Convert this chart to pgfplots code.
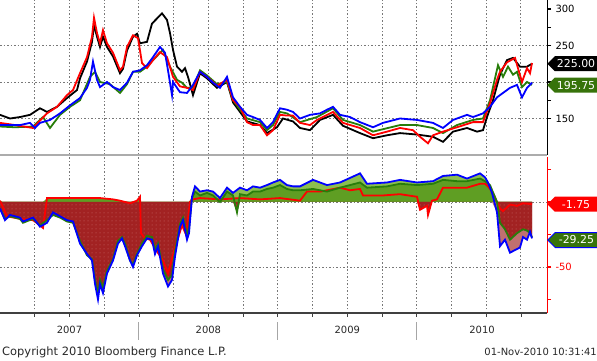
\documentclass[border=0pt]{standalone}
\usepackage{fontspec}
\setmainfont{DejaVu Sans}
\usepackage{pgfplots}
\pgfplotsset{compat=1.18}
\usepackage{pgfplotstable}
\usetikzlibrary{shapes.symbols,patterns.meta}

\definecolor{bbred}{RGB}{255,0,0}
\definecolor{bbgreen}{RGB}{40,125,10}
\definecolor{bbblue}{RGB}{0,0,255}
\definecolor{fillpos}{RGB}{95,158,35}
\definecolor{fillposlt}{RGB}{140,190,80}
\definecolor{fillneg}{RGB}{162,34,34}
\definecolor{fillneglt}{RGB}{192,112,112}
\definecolor{dotc}{RGB}{205,110,110}
\definecolor{gridc}{RGB}{120,120,120}
\definecolor{boxgreen}{RGB}{55,115,10}
\definecolor{txt}{RGB}{40,40,40}

% ---------- top panel (price) ----------
\pgfplotstableread{
x y
0 155
10 150
20 152
30 155
40 164
47 159
57 166
67 178
77 189
80 205
87 228
92 255
94 278
97 262
100 248
103 262
107 248
113 235
120 212
123 218
127 243
133 262
137 266
140 253
147 255
152 280
157 287
162 294
167 285
170 267
173 244
177 221
182 214
185 219
188 207
193 182
200 212
207 205
217 192
227 200
233 172
247 146
260 141
267 130
277 138
283 150
293 146
300 137
310 134
320 148
333 155
343 140
360 130
373 123
387 127
400 130
417 128
433 125
443 118
453 132
467 137
477 132
483 134
487 152
493 175
500 210
507 230
513 233
520 221
527 221
532 225
}\topK

\pgfplotstableread{
x y
0 139
15 138
33 139
43 152
50 137
60 155
70 166
80 175
90 207
95 214
100 200
110 197
120 185
127 197
133 214
140 214
147 221
153 230
163 244
170 221
177 203
182 199
187 192
193 192
200 216
207 209
217 197
227 200
233 175
240 162
247 150
260 145
267 134
273 141
280 159
287 157
300 145
317 152
333 164
343 148
360 141
373 132
400 141
417 141
433 137
443 130
457 141
473 148
483 150
490 175
498 223
503 207
508 221
513 210
517 214
522 193
527 200
532 196
}\topG

\pgfplotstableread{
x y
0 144
15 141
33 137
47 157
57 166
67 182
73 189
80 212
87 234
92 262
94 288
97 267
100 253
103 271
107 253
113 240
120 216
123 221
127 248
133 264
138 260
142 226
147 219
153 230
160 241
167 234
173 207
180 194
187 192
193 189
200 214
207 207
217 195
227 203
233 175
240 166
247 145
253 141
260 141
267 127
273 134
280 155
287 154
293 154
300 144
310 141
317 148
333 159
343 144
360 137
373 127
387 132
400 137
413 134
420 125
428 116
433 127
443 132
457 138
473 145
483 145
490 171
497 203
500 214
507 227
515 233
522 200
527 219
530 212
532 226
}\topR

\pgfplotstableread{
x y
0 141
10 141
20 141
30 144
35 137
40 144
50 148
60 157
70 168
80 178
87 192
90 203
93 228
97 203
100 193
107 200
113 193
120 189
127 199
133 214
140 216
147 223
153 234
160 248
165 240
168 216
172 182
173 200
180 186
187 185
193 196
200 214
207 207
213 199
220 192
227 207
233 179
240 166
247 155
253 152
260 148
267 137
273 145
280 164
287 162
293 159
300 150
310 155
320 157
327 162
333 166
340 155
350 152
360 145
373 138
383 144
400 150
417 148
433 144
443 137
453 148
467 155
473 152
483 157
490 166
497 179
503 185
510 192
517 196
522 179
527 192
532 199
}\topB

% ---------- bottom panel (spreads) ----------
\pgfplotstableread{
x y
0 -5
5 -14
10 -10
20 -12
23 -15
33 -12
40 -19
47 -16
53 -8
60 -11
67 -14
73 -15
80 -32
87 -40
92 -45
95 -63
98 -75
100 -63
103 -70
107 -55
113 -45
118 -32
122 -28
125 -34
130 -45
133 -50
137 -41
142 -34
147 -28
152 -29
155 -40
158 -34
163 -55
168 -65
172 -60
175 -42
180 -19
183 -14
187 -29
189 -24
192 4
195 12
200 8
207 9
213 8
220 3
227 11
233 7
240 11
247 9
253 12
260 11
267 13
273 15
280 17
287 13
293 12
300 12
313 17
327 13
340 15
360 22
367 14
387 15
400 17
417 15
433 16
443 20
457 21
467 18
480 22
485 19
488 15
492 7
497 -8
500 -34
505 -29
510 -39
515 -37
520 -35
523 -27
527 -29
530 -23
532 -28
}\botB

\pgfplotstableread{
x y
0 -5
5 -13
10 -11
20 -13
23 -16
33 -13
40 -18
47 -14
53 -10
60 -12
67 -15
73 -16
80 -30
87 -41
92 -44
95 -60
98 -70
100 -60
103 -66
107 -53
113 -44
118 -30
122 -27
125 -32
130 -45
133 -48
137 -40
142 -32
147 -26
152 -27
155 -37
158 -32
163 -52
168 -60
172 -56
175 -38
180 -17
183 -12
187 -25
189 -20
192 3
195 8
200 5
207 7
213 5
220 0
227 8
233 5
237 -8
240 6
247 5
253 8
260 8
267 10
273 11
280 13
287 10
293 9
300 9
313 10
327 8
340 11
360 15
367 11
387 12
400 14
417 13
433 14
443 17
457 16
467 16
480 18
485 16
490 13
497 0
500 -16
505 -21
510 -29
517 -24
523 -21
527 -22
530 -24
532 -27
}\botG

\pgfplotstableread{
x y
0 1
3 -4
7 -11
20 -13
33 -14
40 -18
43 -20
47 3
60 3
80 3
100 3
113 2
120 1
130 -1
137 1
140 4
141 -24
145 -28
150 -29
157 -38
163 -45
168 -55
175 -35
182 -18
186 -25
190 0
193 2
200 3
220 2
240 3
260 2
280 3
300 1
307 8
320 8
327 9
340 11
350 9
360 10
363 5
383 5
400 6
417 4
420 -6
427 -3
428 -10
432 1
437 2
443 11
457 11
467 11
480 14
485 14
488 12
493 7
497 0
500 -5
503 -7
510 -2
517 -3
523 -1
532 -1.75
}\botR

\pgfplotsset{bb/.style={
  scale only axis, width=547bp, xmin=0, xmax=547,
  clip mode=individual, no markers,
  axis y line*=right, axis x line*=bottom,
  xtick={34.7,69.5,104.2,138.9,173.7,208.4,243.1,277.8,312.6,347.3,382.0,416.8,451.5,486.2,520.9},
  xticklabels={},
  xmajorgrids,
  grid style={gridc, line width=0.9bp, dash pattern=on 1.5bp off 2bp},
  tick label style={font=\fontsize{10}{12}\selectfont},
  major tick length=4bp, minor tick length=4bp,
  tick align=outside,
  yticklabel style={xshift=1bp},
}}
\tikzset{negfill/.style={draw=none, fill=fillneg,
  postaction={pattern={Dots[distance=4bp,radius=0.5bp]}, pattern color=dotc}}}

\begin{document}
\begin{tikzpicture}
\useasboundingbox (0,0) rectangle (597bp,361bp);

% ===== top panel =====
\begin{axis}[bb, at={(0,206bp)}, anchor=south west, height=155bp,
  ymin=100, ymax=312.3,
  ytick={150,200,250,300}, yticklabels={150,,250,300}, minor y tick num=1,
  extra y ticks={150,200,250}, extra y tick labels={},
  extra y tick style={grid=major},
  x axis line style={gray!65, line width=2.6bp},
  x tick style={draw=none},
  y axis line style={black, line width=1bp},
  major y tick style={black, line width=1.6bp},
  minor y tick style={black, line width=1bp},
]
\addplot[black, line width=1.8bp] table[x=x,y=y] {\topK};
\addplot[bbgreen, line width=1.8bp] table[x=x,y=y] {\topG};
\addplot[bbred, line width=1.8bp] table[x=x,y=y] {\topR};
\addplot[bbblue, line width=1.8bp] table[x=x,y=y] {\topB};
\node[signal, signal to=west, fill=black, text=white, anchor=west,
      minimum width=50bp, minimum height=15bp, inner sep=1bp,
      font=\fontsize{11}{12}\selectfont] at (axis cs:547,225) {225.00};
\node[signal, signal to=west, fill=boxgreen, text=white, anchor=west,
      minimum width=50bp, minimum height=15bp, inner sep=1bp,
      font=\fontsize{11}{12}\selectfont] at (axis cs:547,195.75) {195.75};
\end{axis}

% ===== bottom panel =====
\begin{axis}[bb, at={(0,48bp)}, anchor=south west, height=156bp,
  ymin=-85.4, ymax=34.6,
  ytick={-75,-50,-25,0,25}, yticklabels={,-50,,,},
  extra y ticks={-50,0}, extra y tick labels={},
  extra y tick style={grid=major},
  minor x tick num=2,
  x axis line style={black!75, line width=1.3bp},
  x tick style={black!75, line width=0.8bp},
  y axis line style={red, line width=1bp},
  y tick style={red, line width=1.3bp},
  yticklabel style={red},
]
% light fills (blue series)
\addplot[draw=none, fill=fillposlt] table[x=x, y expr={max(\thisrow{y},0)}] {\botB} \closedcycle;
\addplot[draw=none, fill=fillneglt] table[x=x, y expr={min(\thisrow{y},0)}] {\botB} \closedcycle;
% green series fills
\addplot[draw=none, fill=fillpos] table[x=x, y expr={max(\thisrow{y},0)}] {\botG} \closedcycle;
\addplot[negfill] table[x=x, y expr={min(\thisrow{y},0)}] {\botG} \closedcycle;
% red series fills
\addplot[draw=none, fill=fillpos] table[x=x, y expr={max(\thisrow{y},0)}] {\botR} \closedcycle;
\addplot[negfill] table[x=x, y expr={min(\thisrow{y},0)}] {\botR} \closedcycle;
% lines
\addplot[bbred, line width=1.8bp] table[x=x,y=y] {\botR};
\addplot[bbgreen, line width=1.8bp] table[x=x,y=y] {\botG};
\addplot[bbblue, line width=1.8bp] table[x=x,y=y] {\botB};

\node[signal, signal to=west, fill=red, text=white, anchor=west,
      minimum width=50bp, minimum height=15bp, inner sep=1bp,
      font=\fontsize{11}{12}\selectfont] at (axis cs:547,-1.75) {-1.75};
\node[signal, signal to=west, fill=boxgreen, draw=bbblue, line width=1bp, text=white, anchor=west,
      minimum width=50bp, minimum height=15bp, inner sep=1bp,
      font=\fontsize{11}{12}\selectfont] at (axis cs:547,-29.25) {-29.25};

% year labels and separators
\node[text=txt, font=\fontsize{10}{12}\selectfont] at ([yshift=-17bp]axis cs:69.5,-85.4) {2007};
\node[text=txt, font=\fontsize{10}{12}\selectfont] at ([yshift=-17bp]axis cs:208.4,-85.4) {2008};
\node[text=txt, font=\fontsize{10}{12}\selectfont] at ([yshift=-17bp]axis cs:347.3,-85.4) {2009};
\node[text=txt, font=\fontsize{10}{12}\selectfont] at ([yshift=-17bp]axis cs:482,-85.4) {2010};
\draw[gray!70, line width=1bp] ([yshift=-9bp]axis cs:138.9,-85.4) -- ([yshift=-27bp]axis cs:138.9,-85.4);
\draw[gray!70, line width=1bp] ([yshift=-9bp]axis cs:277.8,-85.4) -- ([yshift=-27bp]axis cs:277.8,-85.4);
\draw[gray!70, line width=1bp] ([yshift=-9bp]axis cs:416.8,-85.4) -- ([yshift=-27bp]axis cs:416.8,-85.4);
\end{axis}

\node[anchor=west, text=txt, font=\fontsize{11.5}{13}\selectfont, inner sep=1bp] at (1bp,9bp) {Copyright 2010 Bloomberg Finance L.P.};
\node[anchor=east, text=txt, font=\fontsize{10}{12}\selectfont, inner sep=0bp] at (597bp,9bp) {01-Nov-2010 10:31:41};
\end{tikzpicture}
\end{document}
